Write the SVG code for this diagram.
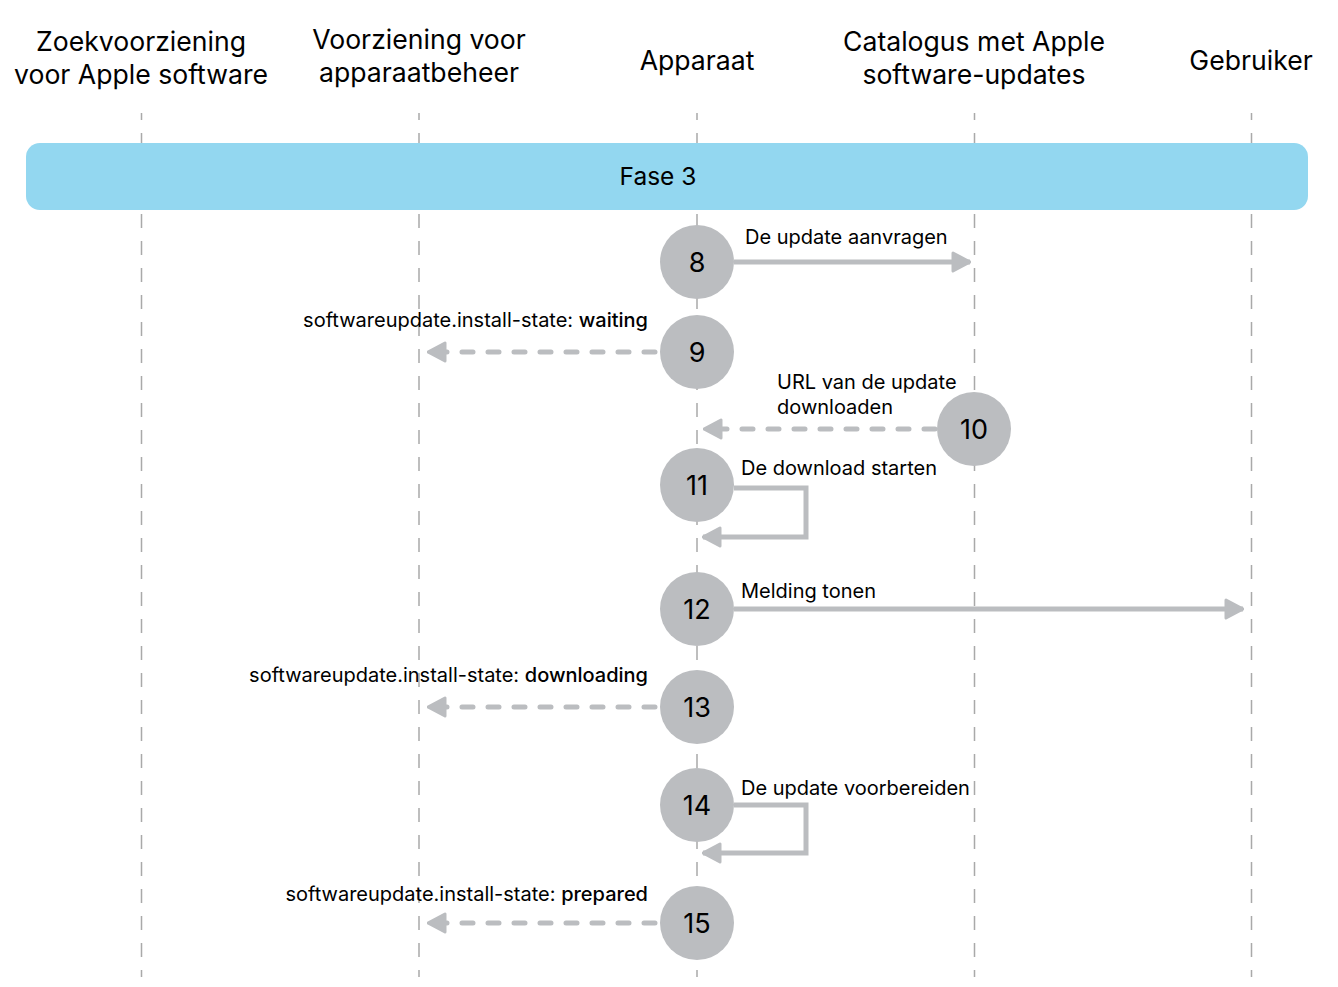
<svg xmlns="http://www.w3.org/2000/svg" width="1338" height="987" viewBox="0 0 1338 987">
<style>
.hdr{font-family:Inter,"Noto Sans","Liberation Sans",sans-serif;font-size:26.6px;fill:#000;text-anchor:middle}
.lbl{font-family:Inter,"Noto Sans","Liberation Sans",sans-serif;font-size:20px;fill:#000}
.end{text-anchor:end}
.b{font-weight:500}
.num{font-family:Inter,"Noto Sans","Liberation Sans",sans-serif;font-size:27px;fill:#000;text-anchor:middle}
.life{stroke:#a9a9a9;stroke-width:1.5;stroke-dasharray:14 13;stroke-dashoffset:7;fill:none}
.msg{stroke:#bbbdc0;stroke-width:5;fill:none}
.dash{stroke-dasharray:11 15;stroke-linecap:round}
.node{fill:#bbbdc0}
</style>
<defs>
<marker id="ah" viewBox="0 0 20 22" refX="19" refY="11" markerWidth="20" markerHeight="22" markerUnits="userSpaceOnUse" orient="auto">
<path d="M2,2 L19,11 L2,20 Z" fill="#bbbdc0" stroke="#bbbdc0" stroke-width="3" stroke-linejoin="round"/>
</marker>
</defs>
<rect width="1338" height="987" fill="#fff"/>
<g id="headers">
<text class="hdr" x="141" y="51">Zoekvoorziening</text>
<text class="hdr" x="141" y="84">voor Apple software</text>
<text class="hdr" x="419" y="49">Voorziening voor</text>
<text class="hdr" x="419" y="82">apparaatbeheer</text>
<text class="hdr" x="697" y="70">Apparaat</text>
<text class="hdr" x="974" y="51">Catalogus met Apple</text>
<text class="hdr" x="974" y="84">software-updates</text>
<text class="hdr" x="1251" y="70">Gebruiker</text>
</g>
<g id="lifelines">
<line class="life" x1="141.5" y1="113" x2="141.5" y2="977"/>
<line class="life" x1="419" y1="113" x2="419" y2="977"/>
<line class="life" x1="697" y1="113" x2="697" y2="977"/>
<line class="life" x1="974.5" y1="113" x2="974.5" y2="977"/>
<line class="life" x1="1251.5" y1="113" x2="1251.5" y2="977"/>
</g>
<g id="phase">
<rect x="26" y="143" width="1282" height="67" rx="14" fill="#93d7f0"/>
<text class="hdr" x="658" y="185" style="font-size:24.5px">Fase 3</text>
</g>
<g id="connectors">
<path class="msg" d="M734,262 H970" marker-end="url(#ah)"/>
<path class="msg dash" d="M655,352 H428" marker-end="url(#ah)"/>
<path class="msg dash" d="M935,429 H704" marker-end="url(#ah)"/>
<path class="msg" d="M734,488 H806 V537 H703" marker-end="url(#ah)"/>
<path class="msg" d="M734,609 H1243" marker-end="url(#ah)"/>
<path class="msg dash" d="M655,707 H428" marker-end="url(#ah)"/>
<path class="msg" d="M734,805 H806 V853 H703" marker-end="url(#ah)"/>
<path class="msg dash" d="M655,923 H428" marker-end="url(#ah)"/>
</g>
<g id="labels">
<text class="lbl" x="745" y="244">De update aanvragen</text>
<text class="lbl end" x="648" y="327">softwareupdate.install-state: <tspan class="b">waiting</tspan></text>
<text class="lbl" x="777" y="389">URL van de update</text>
<text class="lbl" x="777" y="414">downloaden</text>
<text class="lbl" x="741" y="475">De download starten</text>
<text class="lbl" x="741" y="598">Melding tonen</text>
<text class="lbl end" x="648" y="682">softwareupdate.install-state: <tspan class="b">downloading</tspan></text>
<text class="lbl" x="741" y="795">De update voorbereiden</text>
<text class="lbl end" x="648" y="901">softwareupdate.install-state: <tspan class="b">prepared</tspan></text>
</g>
<g id="n8"><circle class="node" cx="697" cy="262" r="37"/><text class="num" x="697" y="272">8</text></g>
<g id="n9"><circle class="node" cx="697" cy="352" r="37"/><text class="num" x="697" y="362">9</text></g>
<g id="n10"><circle class="node" cx="974" cy="429" r="37"/><text class="num" x="974" y="439">10</text></g>
<g id="n11"><circle class="node" cx="697" cy="485" r="37"/><text class="num" x="697" y="495">11</text></g>
<g id="n12"><circle class="node" cx="697" cy="609" r="37"/><text class="num" x="697" y="619">12</text></g>
<g id="n13"><circle class="node" cx="697" cy="707" r="37"/><text class="num" x="697" y="717">13</text></g>
<g id="n14"><circle class="node" cx="697" cy="805" r="37"/><text class="num" x="697" y="815">14</text></g>
<g id="n15"><circle class="node" cx="697" cy="923" r="37"/><text class="num" x="697" y="933">15</text></g>
</svg>
